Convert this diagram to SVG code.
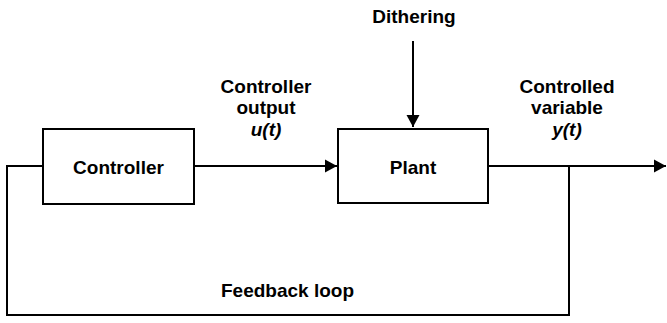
<svg xmlns="http://www.w3.org/2000/svg" width="667" height="323" viewBox="0 0 667 323">
<style>
.box{fill:#fff;stroke:#000;stroke-width:2}
.ln{fill:none;stroke:#000;stroke-width:2}
text{font-family:"Liberation Sans",Arial,sans-serif;font-weight:bold;font-size:19px;fill:#000;text-anchor:middle}
.it{font-style:italic}
</style>
<defs>
<marker id="ah" markerUnits="userSpaceOnUse" markerWidth="14" markerHeight="14" viewBox="0 0 14 14" refX="12" refY="7" orient="auto">
<path d="M0,0.5 L12,7 L0,13.5 Z" fill="#000"/>
</marker>
</defs>
<rect width="667" height="323" fill="#fff"/>
<g id="connectors">
<path class="ln" d="M194,166 H337" marker-end="url(#ah)"/>
<path class="ln" d="M488,166 H666" marker-end="url(#ah)"/>
<path class="ln" d="M413,41 V127" marker-end="url(#ah)"/>
<path class="ln" d="M569,166 V315 H7 V166 H43"/>
</g>
<g id="controller">
<rect class="box" x="43" y="129" width="151" height="75"/>
<text x="118.5" y="174">Controller</text>
</g>
<g id="plant">
<rect class="box" x="338" y="129" width="150" height="74"/>
<text x="413" y="173.5">Plant</text>
</g>
<g id="label-dithering">
<text x="414" y="23">Dithering</text>
</g>
<g id="label-controller-output">
<text x="266" y="92.5">Controller</text>
<text x="266" y="114">output</text>
<text x="266" y="135.5" class="it">u(t)</text>
</g>
<g id="label-controlled-variable">
<text x="567" y="92.5">Controlled</text>
<text x="567" y="114">variable</text>
<text x="567" y="135.5" class="it">y(t)</text>
</g>
<g id="label-feedback">
<text x="287.5" y="297">Feedback loop</text>
</g>
</svg>
